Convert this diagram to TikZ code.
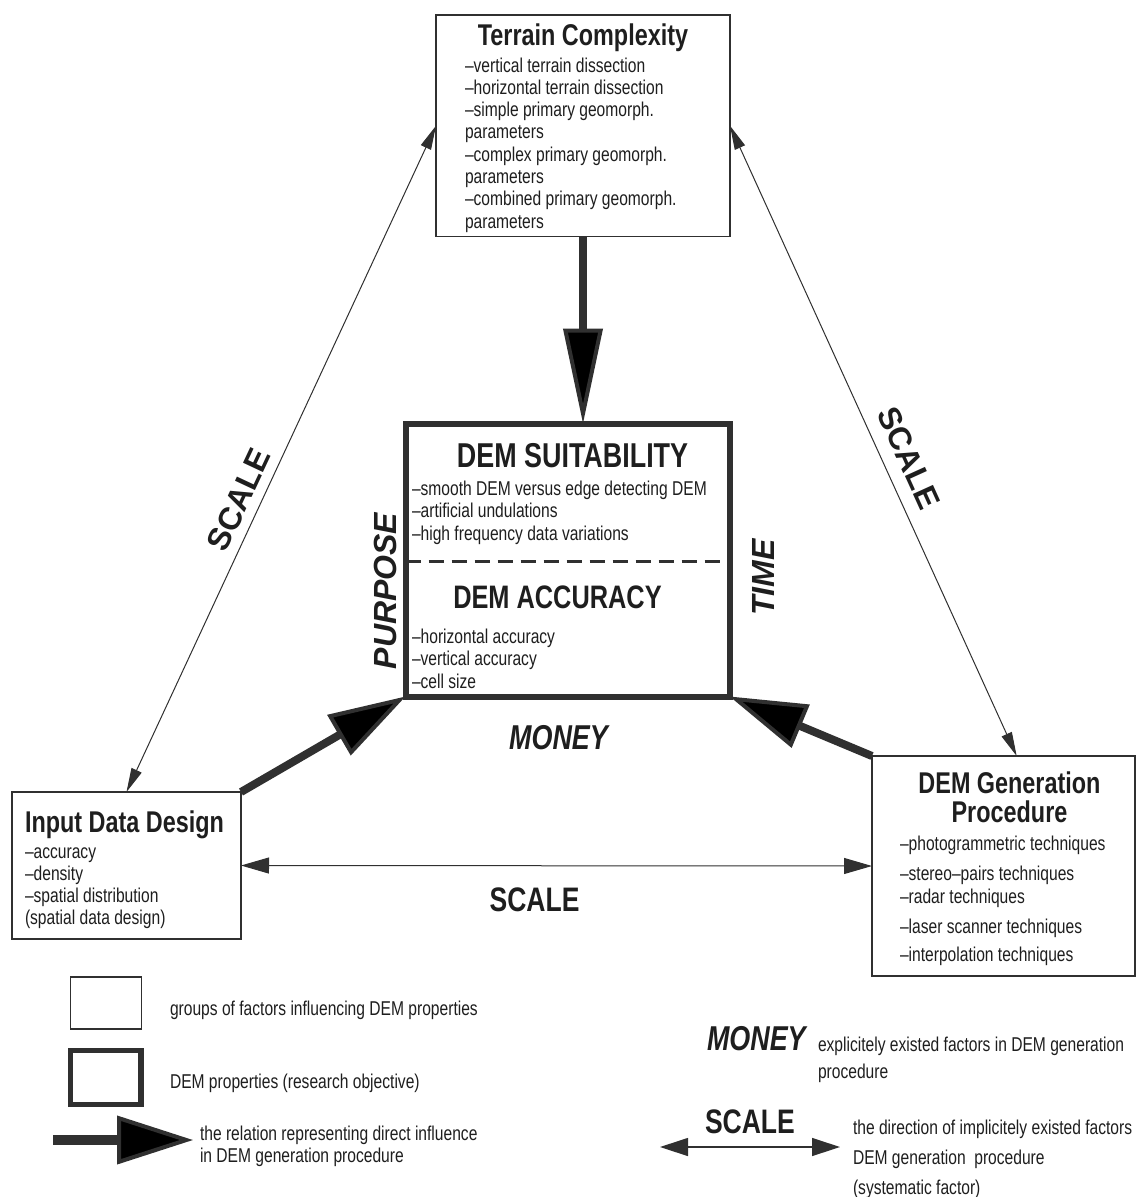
\documentclass[tikz,border=0pt]{standalone}
\usepackage{fontspec}
\setmainfont{Liberation Sans}
\newfontfamily\narrowsans{Liberation Sans}[FakeStretch=0.78]
\newfontfamily\plainsans{Liberation Sans}
\usetikzlibrary{arrows.meta,calc}
\definecolor{ink}{HTML}{1E1E1E}
\definecolor{edge}{HTML}{303030}

% multi-line text nodes are placed by the baseline of their last line
\tikzset{
  every node/.style={inner sep=0pt, outer sep=0pt, text=ink},
  factorbox/.style={draw=edge, line width=1.3pt},
  propertybox/.style={draw=edge, line width=6pt},
  bodytext/.style={font=\narrowsans\fontsize{20}{22.3}\selectfont, align=left, anchor=base west},
  boxtitle/.style={font=\narrowsans\bfseries\fontsize{30}{29}\selectfont, anchor=base},
  proptitle/.style={font=\narrowsans\bfseries\fontsize{34.5}{34}\selectfont, anchor=base},
  explicit/.style={font=\narrowsans\bfseries\itshape\fontsize{34.5}{34}\selectfont, anchor=base},
  implicit/.style={font=\narrowsans\bfseries\fontsize{34}{34}\selectfont, anchor=base},
  sidelabel/.style={font=\plainsans\bfseries\itshape\fontsize{32}{32}\selectfont, anchor=base, rotate=90},
  slantlabel/.style={font=\plainsans\bfseries\fontsize{32}{32}\selectfont},
  directinfluence/.style={draw=edge, line width=8pt,
    -{Triangle[length=77pt,width=46pt,fill=black,line width=4pt]}},
  scalelink/.style={draw=edge, line width=1pt,
    {Triangle[length=24pt,width=11pt]}-{Triangle[length=24pt,width=11pt]}},
  divider/.style={draw=edge, line width=2.5pt, dash pattern=on 15pt off 8pt},
}

\begin{document}
\begin{tikzpicture}[x=1pt,y=-1pt]
\useasboundingbox (0,0) rectangle (1136,1197);

% ---- factor groups and the central DEM properties box ----
\node[factorbox, minimum width=294pt, minimum height=221.5pt] (terrain) at (583,125.75) {};
\node[propertybox, minimum width=324.2pt, minimum height=273pt] (dem) at (567.6,560) {};
\node[factorbox, minimum width=229pt, minimum height=147pt] (input) at (126.5,865.5) {};
\node[factorbox, minimum width=263pt, minimum height=220pt] (gen) at (1003.5,866) {};

% dashed split between suitability and accuracy
\coordinate (split) at (567.6,561.7);
\draw[divider] (split -| dem.west) -- (split -| dem.east);

% ---- Terrain Complexity ----
\node[boxtitle] (terrain-title) at (583,45) {Terrain Complexity};
\node[bodytext] (terrain-list) at (465,228.1) {–vertical terrain dissection\\–horizontal terrain dissection\\–simple primary geomorph.\\parameters\\–complex primary geomorph.\\parameters\\–combined primary geomorph.\\parameters};

% ---- DEM suitability / accuracy ----
\node[proptitle] (suit-title) at (572.5,467) {DEM SUITABILITY};
\node[bodytext, font=\narrowsans\fontsize{20}{22.5}\selectfont] (suit-list) at (412,540) {–smooth DEM versus edge detecting DEM\\–artificial undulations\\–high frequency data variations};
\node[proptitle, font=\narrowsans\bfseries\fontsize{32.5}{32}\selectfont] (acc-title) at (557.5,608) {DEM ACCURACY};
\node[bodytext, font=\narrowsans\fontsize{20}{22.5}\selectfont] (acc-list) at (412,688) {–horizontal accuracy\\–vertical accuracy\\–cell size};

% ---- Input Data Design ----
\node[boxtitle, anchor=base west] (input-title) at (25,832) {Input Data Design};
\node[bodytext] (input-list) at (25,924.9) {–accuracy\\–density\\–spatial distribution\\(spatial data design)};

% ---- DEM Generation Procedure ----
\node[boxtitle, align=center] (gen-title) at (1009.5,822) {DEM Generation\\Procedure};
\node[bodytext] (gen-list) at (900,961) {–photogrammetric techniques\\[7.7pt]–stereo–pairs techniques\\–radar techniques\\[7.7pt]–laser scanner techniques\\[5.7pt]–interpolation techniques};

% ---- direct influences ----
\draw[directinfluence, -{Triangle[length=95pt,width=39pt,fill=black,line width=4pt]}]
  (terrain.south) -- (terrain.south |- dem.north);
\draw[directinfluence] (input.north east) -- (dem.south west);
\draw[directinfluence] (gen.north west) -- (dem.south east);

% ---- scale relations ----
\coordinate (gen-top) at ($(gen.north west)!0.55!(gen.north east)$);
\draw[scalelink] (terrain.west) -- (input.north);
\draw[scalelink] (terrain.east) -- (gen-top);
\draw[scalelink, {Triangle[length=28pt,width=16pt]}-{Triangle[length=28pt,width=16pt]}] (input.east) -- (gen.west);

% ---- factor labels ----
\node[slantlabel, rotate=64.9] (scale-left) at (239,500) {SCALE};
\node[slantlabel, rotate=-65.6] (scale-right) at (909,458) {SCALE};
\node[implicit] (scale-bottom) at (534.5,911) {SCALE};
\node[explicit] (money) at (558.5,749) {MONEY};
\node[sidelabel] (purpose) at (396,591) {PURPOSE};
\node[sidelabel] (time) at (774,577.5) {TIME};

% ---- legend ----
\node[factorbox, minimum width=71pt, minimum height=52pt] (key-factor) at (106.2,1003) {};
\node[bodytext] (key-factor-text) at (170,1015) {groups of factors influencing DEM properties};
\node[draw=edge, line width=5.5pt, minimum width=70.5pt, minimum height=54pt] (key-prop) at (105.75,1077.5) {};
\node[bodytext] (key-prop-text) at (170,1088) {DEM properties (research objective)};
\coordinate (key-arrow-start) at (53,1140);
\coordinate (key-arrow-end) at (193,1140);
\draw[directinfluence, line width=10pt, -{Triangle[length=76pt,width=48pt,fill=black,line width=4pt]}]
  (key-arrow-start) -- (key-arrow-end);
\node[bodytext, font=\narrowsans\fontsize{20}{22}\selectfont] (key-arrow-text) at (200,1162) {the relation representing direct influence\\in DEM generation procedure};

\node[explicit, anchor=base west] (key-money) at (707,1050) {MONEY};
\node[bodytext, font=\narrowsans\fontsize{20}{27}\selectfont] (key-money-text) at (818,1078) {explicitely existed factors in DEM generation\\procedure};
\node[implicit, anchor=base west] (key-scale) at (705,1133) {SCALE};
\coordinate (key-scale-left) at (660,1147);
\coordinate (key-scale-right) at (840,1147);
\draw[draw=edge, line width=1.3pt, {Triangle[length=28pt,width=18pt]}-{Triangle[length=28pt,width=18pt]}]
  (key-scale-left) -- (key-scale-right);
\node[bodytext, font=\narrowsans\fontsize{20}{30}\selectfont] (key-scale-text) at (853,1194) {the direction of implicitely existed factors\\DEM generation~ procedure\\(systematic factor)};
\end{tikzpicture}
\end{document}
